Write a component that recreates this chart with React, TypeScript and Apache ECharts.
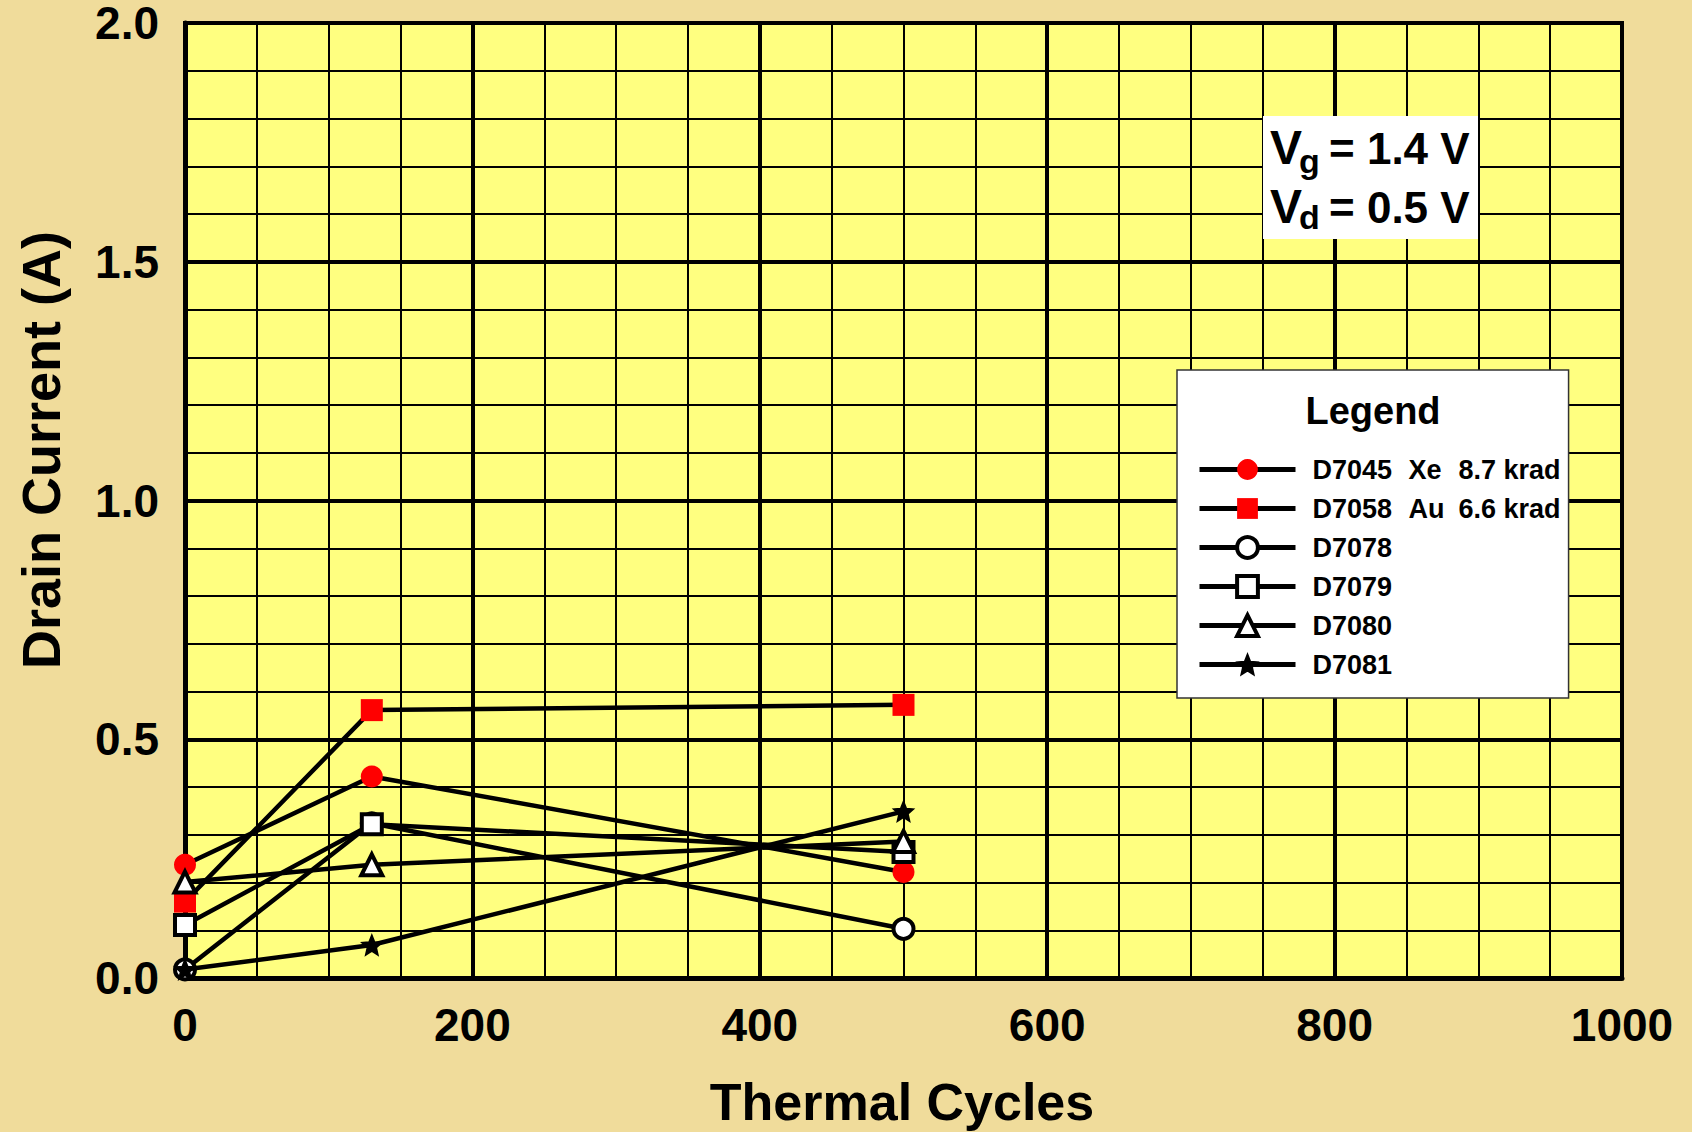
import React, { useEffect, useRef } from "react";
import * as echarts from "echarts";

const cycles = [0, 130, 500];
const seriesNames = ["D7045", "D7058", "D7078", "D7079", "D7080", "D7081"];
const seriesIons = ["Xe", "Au", "", "", "", ""];
const seriesDoses = ["8.7 krad", "6.6 krad", "", "", "", ""];
const d7045 = [0.237, 0.422, 0.222];
const d7058 = [0.16, 0.561, 0.572];
const d7078 = [0.018, 0.324, 0.103];
const d7079 = [0.111, 0.322, 0.264];
const d7080 = [0.201, 0.237, 0.286];
const d7081 = [0.018, 0.069, 0.349];
const xTicks = [0, 200, 400, 600, 800, 1000];
const yTicks = [0, 0.5, 1.0, 1.5, 2.0];

const STAR =
  "path://M0 -1 L0.265 -0.364 L0.951 -0.309 L0.428 0.139 L0.588 0.809 L0 0.45 L-0.588 0.809 L-0.428 0.139 L-0.951 -0.309 L-0.265 -0.364 Z";

const FONT = "'Liberation Sans', Arial, Helvetica, sans-serif";

export default function App() {
  const ref = useRef<HTMLDivElement>(null);
  useEffect(() => {
    if (!ref.current) return;
    const chart = echarts.init(ref.current, undefined, { renderer: "svg" });
    const allData = [d7045, d7058, d7078, d7079, d7080, d7081];
    const symbols = ["circle", "rect", "circle", "rect", "triangle", STAR];
    const fills = ["#ff0000", "#ff0000", "#ffffff", "#ffffff", "#ffffff", "#000000"];
    const borders = [0, 0, 4, 4, 4, 1.5];
    const sizes = [22, 22, 20, 20, 21, 20];
    const series = seriesNames.map((name, i) => ({
      name,
      type: "line",
      data: cycles.map((c, j) => [c, allData[i][j]]),
      symbol: symbols[i],
      symbolSize: sizes[i],
      showAllSymbol: true,
      lineStyle: { color: "#000", width: 4.5 },
      itemStyle: { color: fills[i], borderColor: "#000", borderWidth: borders[i], opacity: 1 },
      z: 3 + i,
    }));
    const legendData = seriesNames.map((name, i) => ({
      name,
      itemStyle: { color: fills[i], borderColor: "#000", borderWidth: borders[i] },
      lineStyle: { color: "#000", width: 5 },
    }));
    const option: any = {
      animation: false,
      backgroundColor: "#F0DC9B",
      textStyle: { fontFamily: FONT },
      grid: {
        left: 185,
        top: 22,
        width: 1437,
        height: 956,
        show: true,
        backgroundColor: "#FFFF80",
        borderColor: "#000",
        borderWidth: 4,
      },
      xAxis: {
        type: "value",
        min: xTicks[0],
        max: xTicks[xTicks.length - 1],
        interval: 200,
        axisLine: { show: true, onZero: false, lineStyle: { color: "#000", width: 5 } },
        axisTick: { show: false },
        axisLabel: {
          fontSize: 46,
          fontWeight: "bold",
          color: "#000",
          margin: 24,
          fontFamily: FONT,
          formatter: (v: number) => String(v),
        },
        splitLine: { show: true, lineStyle: { color: "#000", width: 4 } },
        minorTick: { show: false, splitNumber: 4 },
        minorSplitLine: { show: true, lineStyle: { color: "#000", width: 2 } },
      },
      yAxis: {
        type: "value",
        min: yTicks[0],
        max: yTicks[yTicks.length - 1],
        interval: 0.5,
        axisLine: { show: true, onZero: false, lineStyle: { color: "#000", width: 5 } },
        axisTick: { show: false },
        axisLabel: {
          fontSize: 46,
          lineHeight: 30,
          padding: [10, 0, 0, 0],
          fontWeight: "bold",
          color: "#000",
          margin: 26,
          fontFamily: FONT,
          formatter: (v: number) => v.toFixed(1),
        },
        splitLine: { show: true, lineStyle: { color: "#000", width: 4 } },
        minorTick: { show: false, splitNumber: 5 },
        minorSplitLine: { show: true, lineStyle: { color: "#000", width: 2 } },
      },
      legend: {
        show: true,
        orient: "vertical",
        left: 1177,
        top: 370,
        itemWidth: 96,
        itemHeight: 26,
        itemGap: 12,
        padding: [86, 8, 20, 20],
        backgroundColor: "#ffffff",
        borderColor: "#333",
        borderWidth: 1.5,
        selectedMode: false,
        data: legendData,
        textStyle: {
          fontSize: 27,
          fontWeight: "bold",
          color: "#000",
          fontFamily: FONT,
          rich: {
            a: { fontSize: 27, lineHeight: 27, fontWeight: "bold", width: 96, padding: [0, 0, 0, 12], fontFamily: FONT, color: "#000" },
            b: { fontSize: 27, lineHeight: 27, fontWeight: "bold", width: 50, fontFamily: FONT, color: "#000" },
            c: { fontSize: 27, lineHeight: 27, fontWeight: "bold", fontFamily: FONT, color: "#000" },
          },
        },
        formatter: (name: string) => {
          const i = seriesNames.indexOf(name);
          if (seriesIons[i]) return `{a|${name}}{b|${seriesIons[i]}}{c|${seriesDoses[i]}}`;
          return `{a|${name}}`;
        },
      },
      graphic: [
        {
          type: "text",
          x: 1373,
          y: 411,
          z: 100,
          style: {
            text: "Legend",
            font: `bold 38px ${FONT}`,
            fill: "#000",
            textAlign: "center",
            textVerticalAlign: "middle",
          },
        },
        {
          type: "rect",
          z: 100,
          shape: { x: 1263, y: 116, width: 215, height: 123 },
          style: { fill: "#ffffff" },
        },
        {
          type: "text", z: 101, x: 1270, y: 147,
          style: { text: "V", font: `bold 48px ${FONT}`, fill: "#000", textAlign: "left", textVerticalAlign: "middle" },
        },
        {
          type: "text", z: 101, x: 1299, y: 161,
          style: { text: "g", font: `bold 34px ${FONT}`, fill: "#000", textAlign: "left", textVerticalAlign: "middle" },
        },
        {
          type: "text", z: 101, x: 1329, y: 148,
          style: { text: "= 1.4 V", font: `bold 44px ${FONT}`, fill: "#000", textAlign: "left", textVerticalAlign: "middle" },
        },
        {
          type: "text", z: 101, x: 1270, y: 206,
          style: { text: "V", font: `bold 48px ${FONT}`, fill: "#000", textAlign: "left", textVerticalAlign: "middle" },
        },
        {
          type: "text", z: 101, x: 1299, y: 217,
          style: { text: "d", font: `bold 34px ${FONT}`, fill: "#000", textAlign: "left", textVerticalAlign: "middle" },
        },
        {
          type: "text", z: 101, x: 1329, y: 207,
          style: { text: "= 0.5 V", font: `bold 44px ${FONT}`, fill: "#000", textAlign: "left", textVerticalAlign: "middle" },
        },
        {
          type: "text", z: 101, x: 902, y: 1102,
          style: { text: "Thermal Cycles", font: `bold 52px ${FONT}`, fill: "#000", textAlign: "center", textVerticalAlign: "middle" },
        },
        {
          type: "text", z: 101, x: 41, y: 450, rotation: Math.PI / 2,
          style: { text: "Drain Current (A)", font: `bold 54px ${FONT}`, fill: "#000", textAlign: "center", textVerticalAlign: "middle" },
        },
      ],
      series,
    };
    chart.setOption(option);
    return () => chart.dispose();
  }, []);
  return (
    <div
      ref={ref}
      style={{ position: "fixed", left: 0, top: 0, width: 1692, height: 1132 }}
    />
  );
}
